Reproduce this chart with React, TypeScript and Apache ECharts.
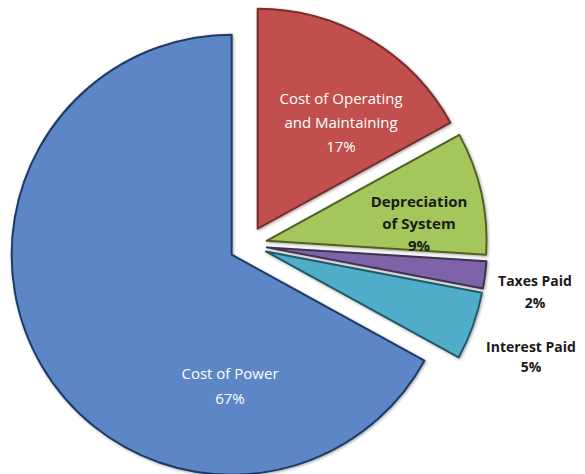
import React, { useEffect, useRef } from "react";
import * as echarts from "echarts";

const categories = [
  "Cost of Operating and Maintaining",
  "Depreciation of System",
  "Taxes Paid",
  "Interest Paid",
  "Cost of Power",
];
const values = [17, 9, 2, 5, 67];
const fills = ["#C0504D", "#A5C65A", "#7F63A8", "#50ADC9", "#5B86C6"];
const borders = ["#7A2E2C", "#4F6228", "#3F3151", "#215968", "#1F3A66"];
const labelColors = ["#ffffff", "#1a1a1a", "#1a1a1a", "#1a1a1a", "#ffffff"];
const labelBold = [false, true, true, true, false];
const labelSizes = [15, 15, 14, 14, 15];
const labelLineHeights = [24, 22, 22, 20, 25];
// label anchor centres (styling only)
const labelPos: [number, number][] = [
  [341, 122],
  [419, 223],
  [535, 291],
  [531, 356],
  [230, 385],
];
const breakAt: Record<string, string> = {
  "Cost of Operating and Maintaining": "Cost of Operating\nand Maintaining",
  "Depreciation of System": "Depreciation\nof System",
};

const CENTER = [248, 245];
const RADIUS = 220;

export default function App() {
  const ref = useRef<HTMLDivElement>(null);
  useEffect(() => {
    if (!ref.current) return;
    const chart = echarts.init(ref.current, undefined, { renderer: "svg" });
    const sliceData = categories.map((name, i) => ({
      name,
      value: values[i],
      selected: true,
      itemStyle: {
        color: fills[i],
        borderColor: borders[i],
        borderWidth: 2,
        shadowBlur: 3,
        shadowColor: "rgba(0,0,0,0.35)",
        shadowOffsetX: 1,
        shadowOffsetY: 1,
      },
      select: {
        itemStyle: {
          color: fills[i],
          borderColor: borders[i],
          borderWidth: 2,
        },
      },
    }));
    const labelData = categories.map((name, i) => ({
      name,
      value: values[i],
      label: {
        color: labelColors[i],
        fontWeight: labelBold[i] ? "bold" : "normal",
        fontSize: labelSizes[i],
        lineHeight: labelLineHeights[i],
      },
    }));
    chart.setOption({
      animation: false,
      backgroundColor: "#ffffff",
      series: [
        {
          type: "pie",
          center: CENTER,
          radius: RADIUS,
          startAngle: 90,
          clockwise: true,
          selectedMode: "multiple",
          selectedOffset: 19,
          emphasis: { disabled: true },
          label: { show: false },
          labelLine: { show: false },
          data: sliceData,
          z: 1,
        },
        {
          type: "pie",
          center: CENTER,
          radius: RADIUS,
          startAngle: 90,
          clockwise: true,
          silent: true,
          selectedMode: false,
          avoidLabelOverlap: false,
          emphasis: { disabled: true },
          itemStyle: { color: "rgba(0,0,0,0)", borderWidth: 0 },
          label: {
            show: true,
            position: "inside",
            fontFamily: "Open Sans",
            align: "center",
            formatter: (p: any) => `${breakAt[p.name] ?? p.name}\n${p.value}%`,
          },
          labelLine: { show: false },
          labelLayout: (params: any) => {
            const pos = labelPos[params.dataIndex];
            return {
              x: pos[0],
              y: pos[1],
              align: "center",
              verticalAlign: "middle",
            };
          },
          data: labelData,
          z: 5,
        },
      ],
    });
    return () => chart.dispose();
  }, []);
  return (
    <div
      ref={ref}
      style={{ position: "absolute", left: 0, top: 0, width: 585, height: 474 }}
    />
  );
}
